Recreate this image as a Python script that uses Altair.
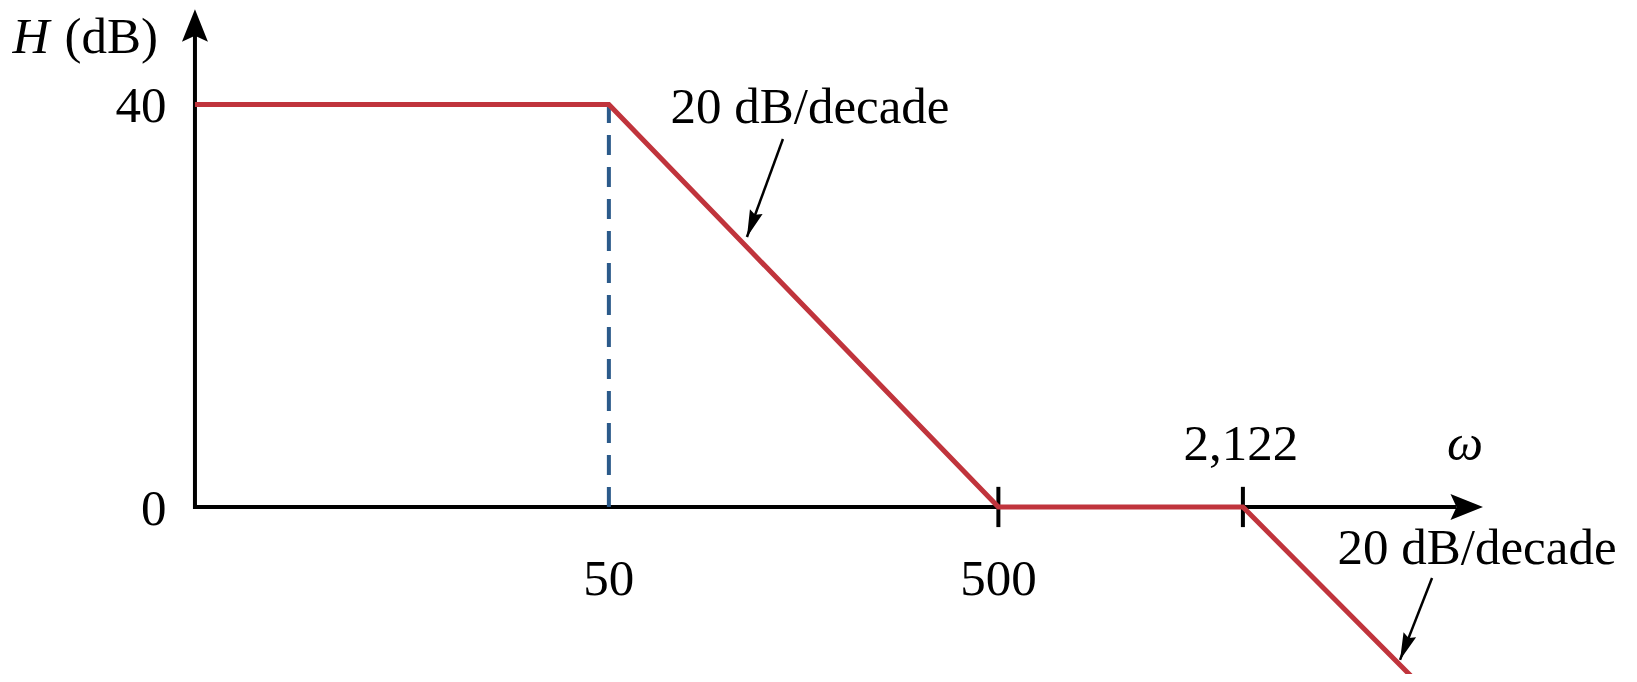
import altair as alt
import pandas as pd

# ---- data ----
# Bode asymptote corners (omega, H in dB)
omega = [4.328, 50, 500, 2122, 5870]
h_db = [40, 40, 0, 0, -17.2]

# axis extents
origin_w = 4.328
axis_start_w = 4.29
y_axis_end_db = 46.8
y_arrow_db = 49.46
x_axis_end_w = 7500
x_arrow_w = 8773

y_tick_vals = [0, 40]
y_tick_text = ["0", "40"]
x_below_w = [50, 500]
x_below_text = ["50", "500"]
x_above_w = [2122]
x_above_text = ["2,122"]
tick_mark_w = [500, 2122]
dashed_w = [50]
dashed_top_db = [40]

ann_start_w = [139.9, 6491]
ann_start_db = [36.57, -7.06]
ann_tip_w = [113.1, 5372]
ann_tip_db = [26.83, -15.2]
ann_angle = [200.2, 201.3]
ann_text = ["20 dB/decade", "20 dB/decade"]

title_db_level = 45.07

# ---- styling ----
RED = "#C0343C"
BLUE = "#2B5A8A"
BLACK = "#000000"
FONT = "Liberation Serif"
FS = 51

XS = alt.Scale(type="log", domain=[1.4332, 20797], nice=False)
YS = alt.Scale(domain=[-16.60, 49.59], nice=False, zero=False)


def X(f="w"):
    return alt.X(f"{f}:Q", scale=XS, axis=None)


def Y(f="db"):
    return alt.Y(f"{f}:Q", scale=YS, axis=None)


# axes
y_axis = alt.Chart(pd.DataFrame({"w": [origin_w], "db": [0], "db2": [y_axis_end_db]})).mark_rule(
    color=BLACK, strokeWidth=4, strokeCap="square"
).encode(x=X(), y=Y(), y2="db2:Q")

x_axis = alt.Chart(pd.DataFrame({"w": [axis_start_w], "w2": [x_axis_end_w], "db": [0]})).mark_rule(
    color=BLACK, strokeWidth=4, strokeCap="butt"
).encode(x=X(), x2="w2:Q", y=Y())

up_head = alt.Chart(pd.DataFrame({"w": [origin_w], "db": [y_arrow_db]})).mark_point(
    shape="M0,0 L0.8,2 L0,1.63 L-0.8,2 Z", size=1056, filled=True, color=BLACK, opacity=1
).encode(x=X(), y=Y())

right_head = alt.Chart(pd.DataFrame({"w": [x_arrow_w], "db": [0]})).mark_point(
    shape="M0,0 L-2,0.8 L-1.63,0 L-2,-0.8 Z", size=1056, filled=True, color=BLACK, opacity=1
).encode(x=X(), y=Y())

ticks = alt.Chart(pd.DataFrame({"w": tick_mark_w, "lo": [-2.0] * len(tick_mark_w), "hi": [2.0] * len(tick_mark_w)})).mark_rule(
    color=BLACK, strokeWidth=4
).encode(x=X(), y=Y("lo"), y2="hi:Q")

dashed = alt.Chart(pd.DataFrame({"w": dashed_w, "db": [0] * len(dashed_w), "db2": dashed_top_db})).mark_rule(
    color=BLUE, strokeWidth=4, strokeDash=[20, 12]
).encode(x=X(), y=Y(), y2="db2:Q")

curve = alt.Chart(pd.DataFrame({"w": omega, "db": h_db, "i": list(range(len(omega)))})).mark_line(
    color=RED, strokeWidth=5, strokeJoin="miter", clip=False
).encode(x=X(), y=Y(), order="i:Q")

ann_df = pd.DataFrame({
    "w": ann_start_w, "db": ann_start_db,
    "w2": ann_tip_w, "db2": ann_tip_db,
    "a": ann_angle, "t": ann_text,
})
ann_lines = alt.Chart(ann_df).mark_rule(color=BLACK, strokeWidth=2.5).encode(
    x=X(), y=Y(), x2="w2:Q", y2="db2:Q"
)
ann_heads = alt.Chart(ann_df).mark_point(
    shape="M0,0 L0.5,2 L0,1.75 L-0.5,2 Z", size=729, filled=True, color=BLACK, opacity=1
).encode(x=X("w2"), y=Y("db2"), angle=alt.Angle("a:Q", scale=None))

ann_text1 = alt.Chart(ann_df.iloc[[0]]).mark_text(
    font=FONT, fontSize=FS, color=BLACK, align="center", baseline="alphabetic", dx=27, dy=-16
).encode(x=X(), y=Y(), text="t:N")
ann_text2 = alt.Chart(ann_df.iloc[[1]]).mark_text(
    font=FONT, fontSize=FS, color=BLACK, align="center", baseline="alphabetic", dx=45, dy=-14
).encode(x=X(), y=Y(), text="t:N")

# tick labels
y_labels = alt.Chart(pd.DataFrame({"w": [origin_w] * 2, "db": y_tick_vals, "t": y_tick_text})).mark_text(
    font=FONT, fontSize=FS, color=BLACK, align="right", baseline="alphabetic", dx=-28.5, dy=18
).encode(x=X(), y=Y(), text="t:N")

x_labels_below = alt.Chart(pd.DataFrame({"w": x_below_w, "db": [0] * len(x_below_w), "t": x_below_text})).mark_text(
    font=FONT, fontSize=FS, color=BLACK, align="center", baseline="alphabetic", dy=88
).encode(x=X(), y=Y(), text="t:N")

x_labels_above = alt.Chart(pd.DataFrame({"w": x_above_w, "db": [0] * len(x_above_w), "t": x_above_text})).mark_text(
    font=FONT, fontSize=FS, color=BLACK, align="center", baseline="alphabetic", dy=-47, dx=-2
).encode(x=X(), y=Y(), text="t:N")

omega_label = alt.Chart(pd.DataFrame({"w": [x_arrow_w], "db": [0], "t": ["ω"]})).mark_text(
    font=FONT, fontSize=FS, fontStyle="italic", color=BLACK, align="center", baseline="alphabetic", dx=-18, dy=-47
).encode(x=X(), y=Y(), text="t:N")

# y axis title: italic H followed by (dB)
title_h = alt.Chart(pd.DataFrame({"w": [origin_w], "db": [title_db_level], "t": ["H"]})).mark_text(
    font=FONT, fontSize=FS, fontStyle="italic", color=BLACK, align="left", baseline="alphabetic", dx=-182.5
).encode(x=X(), y=Y(), text="t:N")
title_db = alt.Chart(pd.DataFrame({"w": [origin_w], "db": [title_db_level], "t": ["(dB)"]})).mark_text(
    font=FONT, fontSize=FS, color=BLACK, align="left", baseline="alphabetic", dx=-130.5
).encode(x=X(), y=Y(), text="t:N")

chart = alt.layer(
    y_axis, x_axis, up_head, right_head, ticks, dashed, curve,
    ann_lines, ann_heads, ann_text1, ann_text2,
    y_labels, x_labels_below, x_labels_above, omega_label, title_h, title_db,
).properties(
    width=1621, height=666,
    autosize=alt.AutoSizeParams(type="none"),
    padding=0,
    background="white",
).configure_view(stroke=None)

chart.save("out.html", embed_options={"renderer": "svg", "actions": False})
